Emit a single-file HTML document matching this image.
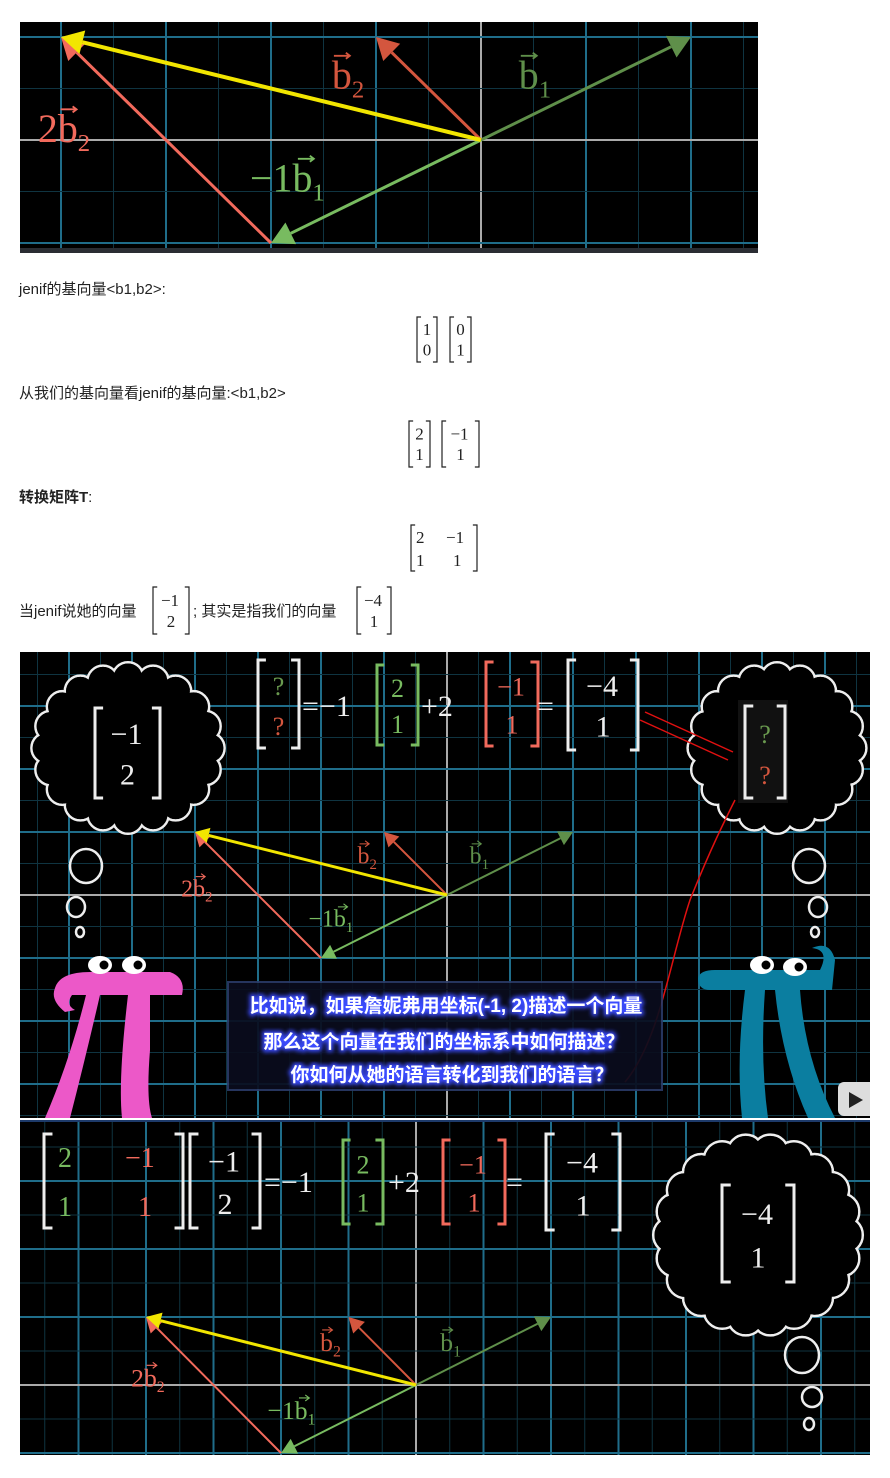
<!DOCTYPE html>
<html><head><meta charset="utf-8">
<style>
html,body{margin:0;padding:0;background:#fff;width:890px;height:1478px;overflow:hidden;}
body{position:relative;font-family:"Liberation Sans","Noto Sans CJK SC",sans-serif;}
svg{position:absolute;left:0;top:0;display:block;}
.t{font-family:"Liberation Sans","Noto Sans CJK SC",sans-serif;font-size:15px;fill:#222;}
.m{font-family:"Liberation Serif","DejaVu Serif",serif;}
.sub{font-family:"Liberation Sans","Noto Sans CJK SC",sans-serif;font-weight:bold;font-size:19px;fill:#fff;}
</style></head>
<body>
<svg id="s" width="890" height="1478" viewBox="0 0 890 1478" overflow="hidden" xmlns="http://www.w3.org/2000/svg">
<defs>
<clipPath id="c1"><rect x="20" y="22" width="738" height="226"/></clipPath>
<clipPath id="c2"><rect x="20" y="652" width="850" height="466"/></clipPath>
<clipPath id="c3"><rect x="20" y="1120" width="850" height="335"/></clipPath>
<filter id="glow"><feGaussianBlur stdDeviation="2"/></filter>
</defs>
<rect x="20" y="22" width="738" height="231" fill="#000"/>
<rect x="20" y="248" width="738" height="5" fill="#2a2d33"/>
<rect x="20" y="652" width="850" height="466" fill="#000"/>
<rect x="20" y="1120" width="850" height="335" fill="#000"/>
<g id="p1" clip-path="url(#c1)"></g>
<g id="p2" clip-path="url(#c2)"></g>
<g id="p3" clip-path="url(#c3)"></g>
<g id="txt">
<text class="t" x="19" y="294">jenif的基向量&lt;b1,b2&gt;:</text>
<text class="t" x="19" y="398">从我们的基向量看jenif的基向量:&lt;b1,b2&gt;</text>
<text class="t" x="19" y="502" font-weight="bold">转换矩阵T<tspan font-weight="normal">:</tspan></text>
<text class="t" x="19" y="616">当jenif说她的向量</text>
<text class="t" x="193" y="616">; 其实是指我们的向量</text>
</g>
<g id="mats"></g>
</svg>
<script>
// data
const basisB1 = [2, 1];
const basisB2 = [-1, 1];
const coords = [-1, 2];
const jenifBasis1 = [1, 0];
const jenifBasis2 = [0, 1];
const resultVec = [-4, 1];

const S = document.getElementById('s');
const NS = 'http://www.w3.org/2000/svg';
function el(tag, attrs, parent, txt){
  const e = document.createElementNS(NS, tag);
  for (const k in attrs) e.setAttribute(k, attrs[k]);
  if (txt !== undefined) e.textContent = txt;
  (parent || S).appendChild(e);
  return e;
}
function arrow(g, x1, y1, x2, y2, col, w, hl, name){
  const dx = x2 - x1, dy = y2 - y1, L = Math.hypot(dx, dy), ux = dx / L, uy = dy / L;
  const bx = x2 - ux * hl, by = y2 - uy * hl, hw = hl * 0.55;
  const ln = el('line', {x1, y1, x2: bx, y2: by, stroke: col, 'stroke-width': w}, g);
  
  
  const p = el('polygon', {points: `${x2},${y2} ${bx - uy * hw},${by + ux * hw} ${bx + uy * hw},${by - ux * hw}`, fill: col}, g);
  
  
}
function vlabel(g, x, y, fs, col, pre, sub, name){
  const t = el('text', {x, y, fill: col, 'font-size': fs, class: 'm'}, g);
  
  
  if (pre) el('tspan', {}, t, pre);
  el('tspan', {}, t, 'b');
  el('tspan', {'font-size': fs * 0.62, dy: fs * 0.22}, t, sub);
  const bw = fs * 0.5, bx = x + (pre ? fs * (pre.length > 1 ? 1.15 : 0.52) : 0);
  const a = el('path', {d: `M${bx + 2},${y - fs * 0.82} h${bw * 0.8} m-4,-3 l4,3 l-4,3`, stroke: col, fill: 'none', 'stroke-width': Math.max(1, fs / 22)}, g);
  
  
}
function panel(gid, x0, y0, w, h, ox, oy, ux, uy, hl, lw){
  const g = document.getElementById(gid);
  const X = v => ox + v * ux, Y = v => oy - v * uy;
  for (let k = Math.floor((x0 - ox) / ux) - 1; k <= (x0 + w - ox) / ux + 1; k += 0.5){
    const x = X(k), maj = Number.isInteger(k);
    const l = el('line', {x1: x, y1: y0, x2: x, y2: y0 + h, stroke: k === 0 ? '#aaa' : (maj ? '#1f6d8a' : '#0f3441'), 'stroke-width': maj ? 2 : 1}, g);
    
    
  }
  for (let k = Math.floor((oy - y0 - h) / uy) - 1; k <= (oy - y0) / uy + 1; k += 0.5){
    const y = Y(k), maj = Number.isInteger(k);
    const l = el('line', {x1: x0, y1: y, x2: x0 + w, y2: y, stroke: k === 0 ? '#aaa' : (maj ? '#1f6d8a' : '#0f3441'), 'stroke-width': maj ? 2 : 1}, g);
    
    
  }
  const nb1 = [coords[0] * basisB1[0], coords[0] * basisB1[1]];
  const tb2 = [coords[1] * basisB2[0], coords[1] * basisB2[1]];
  const sum = [nb1[0] + tb2[0], nb1[1] + tb2[1]];
  arrow(g, X(0), Y(0), X(basisB1[0]), Y(basisB1[1]), '#5f8f4a', lw, hl, 'vector-b1');
  arrow(g, X(0), Y(0), X(basisB2[0]), Y(basisB2[1]), '#d4563e', lw, hl, 'vector-b2');
  arrow(g, X(0), Y(0), X(nb1[0]), Y(nb1[1]), '#78bb60', lw, hl, 'vector-neg-b1');
  arrow(g, X(nb1[0]), Y(nb1[1]), X(sum[0]), Y(sum[1]), '#f26a5c', lw, hl, 'vector-2b2');
  arrow(g, X(0), Y(0), X(sum[0]), Y(sum[1]), '#f2e600', lw + 1, hl, 'vector-sum');
  const fs = ux * 0.38;
  vlabel(g, X(-1.42), Y(0.5), fs, '#d4563e', '', '2', 'label-b2');
  vlabel(g, X(0.36), Y(0.5), fs, '#5f8f4a', '', '1', 'label-b1');
  vlabel(g, X(-4.22), Y(-0.02), fs, '#f26a5c', '2', '2', 'label-2b2');
  vlabel(g, X(-2.2), Y(-0.5), fs, '#78bb60', '−1', '1', 'label-neg-b1');
  return g;
}
panel('p1', 20, 22, 738, 226, 481, 140, 105, 103, 22, 3);
const g2 = panel('p2', 20, 652, 850, 466, 447, 895, 63, 63, 14, 2);
const g3 = panel('p3', 20, 1120, 850, 335, 416, 1385, 67.5, 68, 15, 2);

function bracket(g, x1, x2, y1, y2, col, w, name){
  const t = Math.max(4, (y2 - y1) * 0.09);
  const p = el('path', {d: `M${x1 + t},${y1} H${x1} V${y2} H${x1 + t} M${x2 - t},${y1} H${x2} V${y2} H${x2 - t}`, stroke: col, fill: 'none', 'stroke-width': w}, g);
  
  
}
function vec(g, x1, x2, y1, y2, vals, col, bcol, fs, w, name, cols){
  bracket(g, x1, x2, y1, y2, bcol, w, name + '-bracket');
  const cx = (x1 + x2) / 2, h = y2 - y1;
  vals.forEach((v, i) => {
    const t = el('text', {x: cx + (v < 0 ? -1 : 0), y: y1 + h * (i === 0 ? 0.4 : 0.85), 'text-anchor': 'middle', 'font-size': fs, fill: cols ? cols[i] : col, class: 'm'}, g, String(v).replace('-', '−'));
    
    
  });
}
function txt(g, x, y, s, fs, col, name, cls){
  const t = el('text', {x, y, 'font-size': fs, fill: col, class: cls || 'm'}, g, s);
  
  
  return t;
}
const M = document.getElementById('mats');
vec(M, 417, 437, 317, 362, jenifBasis1, '#222', '#222', 17, 1.2, 'jenif-e1');
vec(M, 450, 471, 317, 362, jenifBasis2, '#222', '#222', 17, 1.2, 'jenif-e2');
vec(M, 409, 430, 421, 467, basisB1, '#222', '#222', 17, 1.2, 'our-b1');
vec(M, 442, 479, 421, 467, basisB2, '#222', '#222', 17, 1.2, 'our-b2');
bracket(M, 411, 477, 525, 571, '#222', 1.2, 'matrix-t-bracket');
txt(M, 416, 543, basisB1[0], 17, '#222', 'matrix-t-entry');
txt(M, 416, 566, basisB1[1], 17, '#222', 'matrix-t-entry');
txt(M, 446, 543, '−' + Math.abs(basisB2[0]), 17, '#222', 'matrix-t-entry');
txt(M, 453, 566, basisB2[1], 17, '#222', 'matrix-t-entry');
vec(M, 153, 189, 587, 634, coords, '#222', '#222', 17, 1.2, 'jenif-vec');
vec(M, 357, 391, 587, 634, resultVec, '#222', '#222', 17, 1.2, 'our-vec');

function cloud(g, cx, cy, rx, ry, n, name){
  const cg = el('g', {}, g);
  
  
  const pts = [];
  for (let i = 0; i < n; i++){ const a = i / n * 2 * Math.PI; pts.push([cx + Math.cos(a) * rx * 0.9, cy + Math.sin(a) * ry * 0.9]); }
  const r = Math.min(rx, ry) * 0.2;
  pts.forEach(p => el('circle', {cx: p[0], cy: p[1], r, fill: '#000', stroke: '#eee', 'stroke-width': 2.5}, cg));
  pts.forEach(p => el('circle', {cx: p[0], cy: p[1], r: r - 1.3, fill: '#000'}, cg));
  el('ellipse', {cx, cy, rx: rx * 0.86, ry: ry * 0.86, fill: '#000'}, cg);
}
function bubbles(g, list){
  list.forEach(b => {
    const c = el('ellipse', {cx: b[0], cy: b[1], rx: b[2], ry: b[3], fill: 'none', stroke: '#eee', 'stroke-width': 2.5}, g);
    
    
  });
}
cloud(g2, 128, 748, 90, 78, 20, 'left-thought-cloud');
cloud(g2, 777, 748, 82, 78, 20, 'right-thought-cloud');
bubbles(g2, [[86, 866, 16, 17], [76, 907, 9, 10], [80, 932, 4, 5], [809, 866, 16, 17], [818, 907, 9, 10], [815, 932, 4, 5]]);
vec(g2, 95, 160, 708, 798, coords, '#eee', '#eee', 30, 3, 'cloud-jenif-vec');
el('rect', {x: 738, y: 700, width: 50, height: 103, fill: '#111'}, g2);
vec(g2, 745, 785, 706, 798, ['?', '?'], '#eee', '#eee', 26, 3, 'cloud-unknown-vec', ['#6a9a4f', '#d4563e']);
vec(g2, 258, 299, 660, 748, ['?', '?'], '#eee', '#eee', 26, 3, 'eq-unknown-vec', ['#6a9a4f', '#d4563e']);
txt(g2, 302, 716, '=−1', 30, '#eee', 'eq-text-1');
vec(g2, 377, 418, 665, 745, basisB1, '#78bb60', '#78bb60', 26, 3, 'eq-b1');
txt(g2, 421, 716, '+2', 30, '#eee', 'eq-text-2');
vec(g2, 486, 538, 662, 746, basisB2, '#f26a5c', '#f26a5c', 26, 3, 'eq-b2');
txt(g2, 537, 716, '=', 30, '#eee', 'eq-text-3');
vec(g2, 568, 638, 660, 750, resultVec, '#eee', '#eee', 30, 3, 'eq-result');
const ra = el('path', {d: 'M645,712 L733,752 M640,720 L728,760 M625,1082 C660,1040 670,960 690,900 C710,850 725,820 735,800', stroke: '#e01010', fill: 'none', 'stroke-width': 1.5}, g2);


const pk = el('path', {d: 'M55,988 Q60,972 90,972 L170,972 Q186,978 182,995 L150,995 L150,1050 Q146,1100 152,1118 L122,1118 Q118,1080 128,995 L100,995 Q85,1060 70,1118 L45,1118 Q70,1060 86,995 L72,995 Q65,1005 75,1010 L65,1012 Q50,1000 55,988 Z', fill: '#ec58c8'}, g2);


const bl = el('path', {d: 'M698,978 Q700,970 715,970 L820,970 Q830,950 812,948 Q830,940 835,960 L832,990 L800,990 Q805,1060 835,1118 L808,1118 Q782,1060 775,990 L765,990 Q760,1060 768,1118 L742,1118 Q736,1060 745,990 L710,990 Q698,990 698,978 Z', fill: '#0b7ea0'}, g2);


[[100, 965], [134, 965], [762, 965], [795, 967]].forEach(e => {
  const c = el('ellipse', {cx: e[0], cy: e[1], rx: 12, ry: 9, fill: '#fff'}, g2);
  
  
  el('circle', {cx: e[0] + 4, cy: e[1], r: 4.5, fill: '#000'}, g2);
});
const pb = el('rect', {x: 838, y: 1082, width: 40, height: 34, rx: 6, fill: '#ddd'}, g2);


el('polygon', {points: '849,1092 849,1108 863,1100', fill: '#222'}, g2);
const sb = el('rect', {x: 228, y: 982, width: 434, height: 108, fill: '#0a0d1e', stroke: '#2a3a66', 'stroke-width': 2, opacity: 0.92}, g2);


[['比如说，如果詹妮弗用坐标(-1, 2)描述一个向量', 446, 1012], ['那么这个向量在我们的坐标系中如何描述？', 444, 1048], ['你如何从她的语言转化到我们的语言？', 452, 1081]].forEach(s => {
  const gl = el('text', {x: s[1], y: s[2], 'text-anchor': 'middle', class: 'sub', fill: '#3a4cff', stroke: '#3a4cff', 'stroke-width': 4, filter: 'url(#glow)'}, g2, s[0]);
  
  
  const t = el('text', {x: s[1], y: s[2], 'text-anchor': 'middle', class: 'sub'}, g2, s[0]);
  
  
});
const top3 = el('rect', {x: 20, y: 1118, width: 850, height: 4, fill: '#1d3a6a'}, g3);


bracket(g3, 44, 183, 1134, 1228, '#eee', 3, 'eq3-matrix-bracket');
txt(g3, 58, 1167, basisB1[0], 28, '#78bb60', 'eq3-matrix-entry');
txt(g3, 58, 1216, basisB1[1], 28, '#78bb60', 'eq3-matrix-entry');
txt(g3, 125, 1167, '−' + Math.abs(basisB2[0]), 28, '#f26a5c', 'eq3-matrix-entry');
txt(g3, 138, 1216, basisB2[1], 28, '#f26a5c', 'eq3-matrix-entry');
vec(g3, 190, 260, 1134, 1228, coords, '#eee', '#eee', 30, 3, 'eq3-coords');
txt(g3, 264, 1192, '=−1', 30, '#eee', 'eq3-text-1');
vec(g3, 343, 383, 1140, 1224, basisB1, '#78bb60', '#78bb60', 26, 3, 'eq3-b1');
txt(g3, 388, 1192, '+2', 30, '#eee', 'eq3-text-2');
vec(g3, 443, 505, 1140, 1224, basisB2, '#f26a5c', '#f26a5c', 26, 3, 'eq3-b2');
txt(g3, 506, 1192, '=', 30, '#eee', 'eq3-text-3');
vec(g3, 546, 620, 1134, 1230, resultVec, '#eee', '#eee', 30, 3, 'eq3-result');
cloud(g3, 758, 1235, 96, 92, 22, 'panel3-thought-cloud');
bubbles(g3, [[802, 1355, 17, 18], [812, 1397, 10, 10], [809, 1424, 5, 6]]);
vec(g3, 722, 794, 1185, 1282, resultVec, '#eee', '#eee', 30, 3, 'cloud-result-vec');
</script>
</body></html>
